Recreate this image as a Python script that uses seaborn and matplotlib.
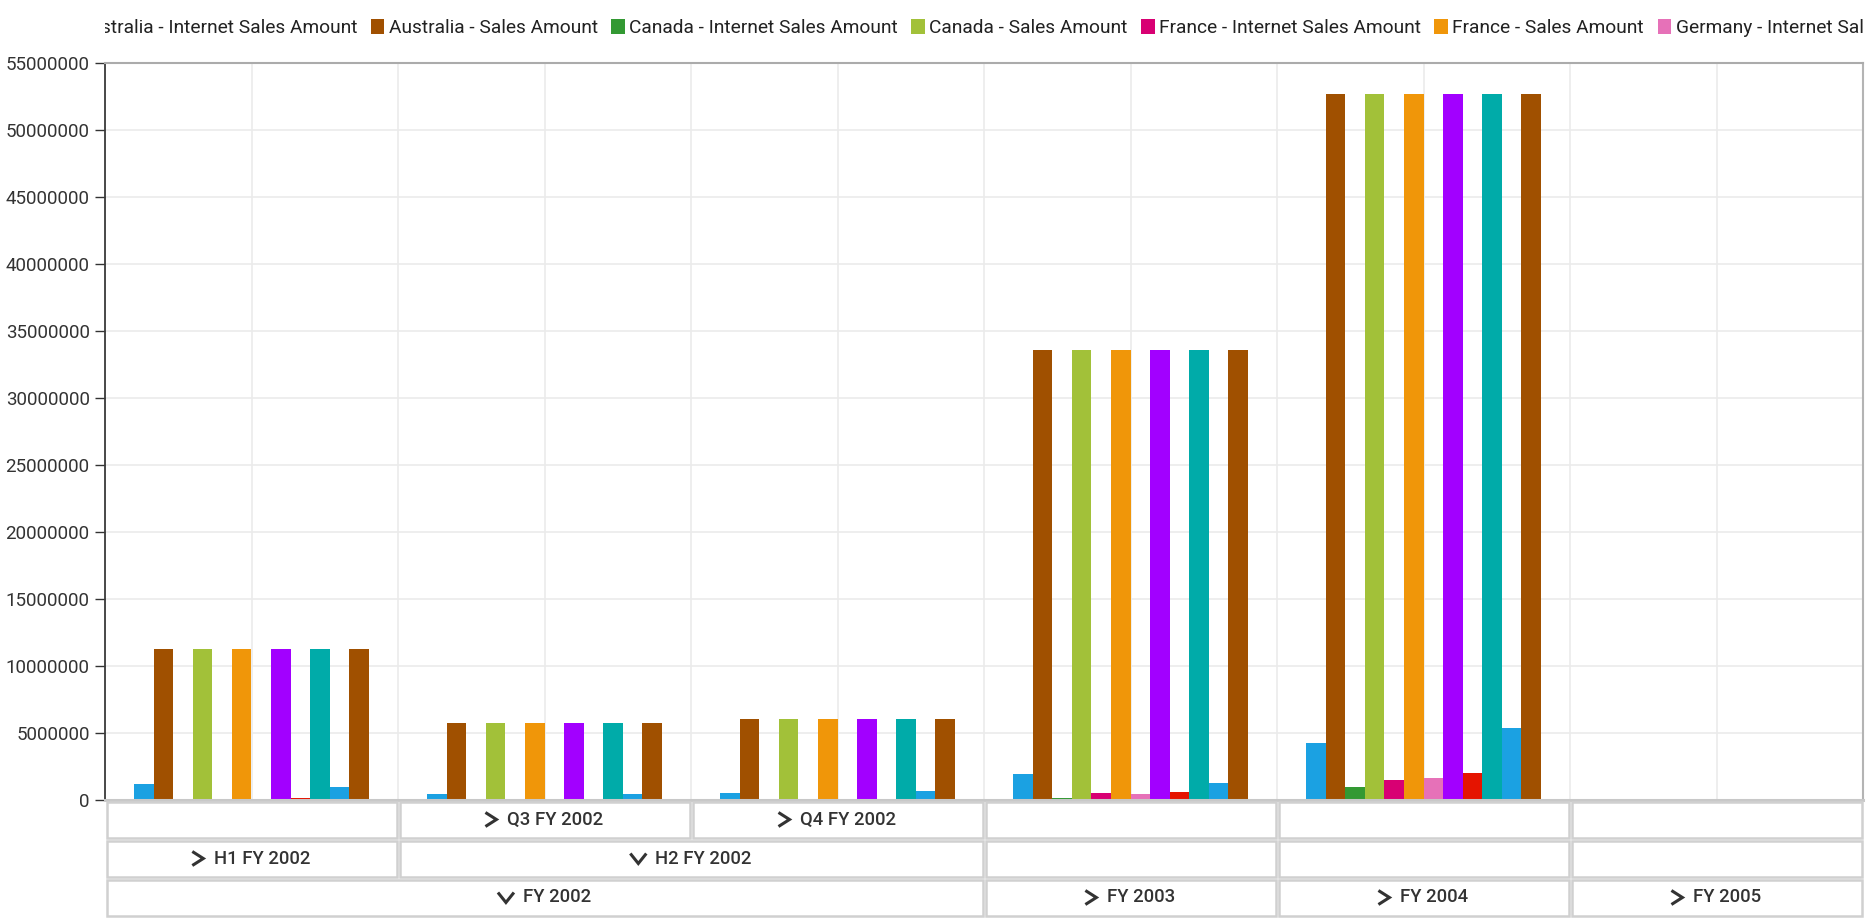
import numpy as np
import pandas as pd
import seaborn as sns
import matplotlib.pyplot as plt
from matplotlib.patches import Rectangle, Patch
from matplotlib.ticker import StrMethodFormatter
from matplotlib.transforms import Bbox, TransformedBbox

# data
periods = ['H1 FY 2002', 'Q3 FY 2002', 'Q4 FY 2002', 'FY 2003', 'FY 2004', 'FY 2005']

aus_internet = [1170000, 470000, 500000, 1960000, 4250000, 0]
aus_sales = [11240000, 5720000, 6020000, 33580000, 52660000, 0]
can_internet = [0, 50000, 50000, 120000, 970000, 0]
can_sales = [11240000, 5720000, 6020000, 33580000, 52660000, 0]
fra_internet = [30000, 0, 0, 520000, 1470000, 0]
fra_sales = [11240000, 5720000, 6020000, 33580000, 52660000, 0]
ger_internet = [30000, 0, 0, 450000, 1640000, 0]
ger_sales = [11240000, 5720000, 6020000, 33580000, 52660000, 0]
uk_internet = [120000, 0, 0, 580000, 2010000, 0]
uk_sales = [11240000, 5720000, 6020000, 33580000, 52660000, 0]
us_internet = [950000, 420000, 670000, 1290000, 5370000, 0]
us_sales = [11240000, 5720000, 6020000, 33580000, 52660000, 0]

series_names = ['Australia - Internet Sales Amount', 'Australia - Sales Amount',
                'Canada - Internet Sales Amount', 'Canada - Sales Amount',
                'France - Internet Sales Amount', 'France - Sales Amount',
                'Germany - Internet Sales Amount', 'Germany - Sales Amount',
                'United Kingdom - Internet Sales Amount', 'United Kingdom - Sales Amount',
                'United States - Internet Sales Amount', 'United States - Sales Amount']
series_values = [aus_internet, aus_sales, can_internet, can_sales, fra_internet, fra_sales,
                 ger_internet, ger_sales, uk_internet, uk_sales, us_internet, us_sales]

colors = ['#1BA1E2', '#A05000', '#339933', '#A2C139', '#D80073', '#F09609',
          '#E671B8', '#A200FF', '#E51400', '#00ABA9', '#1BA1E2', '#A05000']

# hierarchy rows under the chart: (label, first cat, last cat + 1, chevron)
quarter_row = [('', 0, 1, None), ('Q3 FY 2002', 1, 2, '>'), ('Q4 FY 2002', 2, 3, '>'),
               ('', 3, 4, None), ('', 4, 5, None), ('', 5, 6, None)]
half_row = [('H1 FY 2002', 0, 1, '>'), ('H2 FY 2002', 1, 3, 'v'),
            ('', 3, 4, None), ('', 4, 5, None), ('', 5, 6, None)]
year_row = [('FY 2002', 0, 3, 'v'), ('FY 2003', 3, 4, '>'),
            ('FY 2004', 4, 5, '>'), ('FY 2005', 5, 6, '>')]

rows = []
for name, vals in zip(series_names, series_values):
    for p, v in zip(periods, vals):
        rows.append((p, name, v))
df = pd.DataFrame(rows, columns=['period', 'series', 'value'])

sns.set_style('white')
plt.rcParams['font.family'] = ['Roboto', 'DejaVu Sans']
txt_col = '#333333'

W, H = 1872, 924
fig = plt.figure(figsize=(W / 100, H / 100), dpi=100)
ax = fig.add_axes([105 / W, 124 / H, 1758 / W, 737 / H])

sns.barplot(data=df, x='period', y='value', hue='series', order=periods,
            hue_order=series_names, palette=colors, saturation=1, width=0.8,
            errorbar=None, linewidth=0, legend=False, ax=ax)

ax.set_xlim(-0.5, 5.5)
ax.set_ylim(0, 55000000)
ax.set_yticks(np.arange(0, 55000001, 5000000))
ax.yaxis.set_major_formatter(StrMethodFormatter('{x:.0f}'))
ax.set_xticks(np.arange(-0.5, 5.6, 0.5))
ax.set_xticklabels([])
ax.tick_params(axis='x', length=0)
ax.tick_params(axis='y', length=7, width=1, color=txt_col, labelcolor=txt_col,
               labelsize=13.5, pad=4, left=True)
ax.set_xlabel('')
ax.set_ylabel('')
ax.grid(True, color='#ebebeb', lw=1.2)
ax.set_axisbelow(True)
ax.spines['left'].set_color('#3a3a3a')
ax.spines['left'].set_linewidth(1.3)
ax.spines['top'].set_color('#ababab')
ax.spines['top'].set_linewidth(1.5)
ax.spines['right'].set_color('#b4b4b4')
ax.spines['right'].set_linewidth(1.5)
ax.spines['bottom'].set_color('#c8c8c8')
ax.spines['bottom'].set_linewidth(2.2)

# legend, one row, clipped to the plot width
handles = [Patch(facecolor=c, edgecolor='none') for c in colors]
leg = ax.legend(handles, series_names, loc='center left', bbox_to_anchor=(0, (H - 28) / H),
                bbox_transform=fig.transFigure, ncol=12, frameon=False, fontsize=13.8,
                handlelength=0.72, handleheight=0.8, handletextpad=0.22,
                columnspacing=0.7, borderpad=0, borderaxespad=0)
for t in leg.get_texts():
    t.set_color('#222222')
fig.canvas.draw()
x0 = leg.legend_handles[1].get_window_extent().x0
leg.set_bbox_to_anchor(((370.5 - x0) / W, (H - 28) / H), transform=fig.transFigure)
clip = TransformedBbox(Bbox.from_extents(105 / W, 0, 1863 / W, 1), fig.transFigure)
for a in list(leg.get_texts()) + list(leg.legend_handles):
    a.set_clip_box(clip)
    a.set_clip_on(True)

# category hierarchy table
tax = fig.add_axes([105 / W, 7 / H, 1758 / W, 117 / H])
tax.set_xlim(-0.5, 5.5)
tax.set_ylim(0, 3)
tax.axis('off')
px_x = 6 / 1758
px_y = 3 / 117

cell_labels = []
for r, row in enumerate([quarter_row, half_row, year_row]):
    ytop = 3 - r
    for label, a, b, chev in row:
        xa, xb = a - 0.5, b - 0.5
        tax.add_patch(Rectangle((xa + 1.5 * px_x, ytop - 1 + 1.5 * px_y),
                                (xb - xa) - 3 * px_x, 1 - 3 * px_y,
                                facecolor='white', edgecolor='#d0d0d0', lw=1.8,
                                clip_on=False))
        if label:
            t = tax.text((xa + xb) / 2, ytop - 0.5, label, ha='left', va='center',
                         fontsize=13.3, fontweight='medium', color=txt_col)
            cell_labels.append((t, (xa + xb) / 2, ytop - 0.5, chev))

fig.canvas.draw()
renderer = fig.canvas.get_renderer()
for t, cx, cy, chev in cell_labels:
    tw = t.get_window_extent(renderer).width
    if chev == '>':
        cw, gap = 11, 11
        total = cw + gap + tw
        left = cx - total / 2 * px_x
        xs = [left, left + cw * px_x, left]
        ys = [cy + 7 * px_y, cy, cy - 7 * px_y]
    else:
        cw, gap = 16, 9
        total = cw + gap + tw
        left = cx - total / 2 * px_x
        xs = [left, left + cw / 2 * px_x, left + cw * px_x]
        ys = [cy + 5 * px_y, cy - 5 * px_y, cy + 5 * px_y]
    tax.plot(xs, ys, color=txt_col, lw=2.2, solid_joinstyle='miter',
             solid_capstyle='butt', clip_on=False)
    t.set_x(left + (cw + gap) * px_x)

fig.savefig('out.png', dpi=100)
